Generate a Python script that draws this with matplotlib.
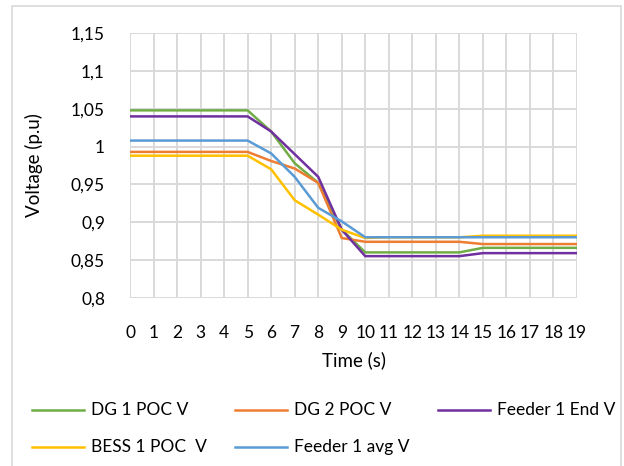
import matplotlib.pyplot as plt
from matplotlib.lines import Line2D
from matplotlib.patches import Rectangle
from matplotlib.ticker import FuncFormatter

time_s = list(range(20))

dg1_poc = [1.048, 1.048, 1.048, 1.048, 1.048, 1.048, 1.020, 0.978, 0.952, 0.890,
           0.860, 0.860, 0.860, 0.860, 0.860, 0.866, 0.866, 0.866, 0.866, 0.866]
dg2_poc = [0.993, 0.993, 0.993, 0.993, 0.993, 0.993, 0.981, 0.971, 0.952, 0.879,
           0.874, 0.874, 0.874, 0.874, 0.874, 0.871, 0.871, 0.871, 0.871, 0.871]
feeder1_end = [1.040, 1.040, 1.040, 1.040, 1.040, 1.040, 1.020, 0.990, 0.960, 0.890,
               0.855, 0.855, 0.855, 0.855, 0.855, 0.859, 0.859, 0.859, 0.859, 0.859]
bess1_poc = [0.988, 0.988, 0.988, 0.988, 0.988, 0.988, 0.970, 0.929, 0.910, 0.890,
             0.879, 0.880, 0.880, 0.880, 0.880, 0.882, 0.882, 0.882, 0.882, 0.882]
feeder1_avg = [1.008, 1.008, 1.008, 1.008, 1.008, 1.008, 0.991, 0.960, 0.919, 0.901,
               0.880, 0.880, 0.880, 0.880, 0.880, 0.880, 0.880, 0.880, 0.880, 0.880]

series = [
    ("DG 1 POC V", dg1_poc, "#70AD47"),
    ("DG 2 POC V", dg2_poc, "#ED7D31"),
    ("Feeder 1 End V", feeder1_end, "#7030A0"),
    ("BESS 1 POC  V", bess1_poc, "#FFC000"),
    ("Feeder 1 avg V", feeder1_avg, "#5B9BD5"),
]

plt.rcParams["font.family"] = ["Lato", "DejaVu Sans"]
W, H = 624, 466
fig = plt.figure(figsize=(W / 100, H / 100), dpi=100)

# chart frame (bottom edge falls outside the picture)
fig.patches.append(Rectangle((12 / W, -0.02), 609 / W, 1 - 6 / H + 0.02,
                             transform=fig.transFigure, fill=False,
                             edgecolor="#d9d9d9", linewidth=1.2))

ax = fig.add_axes([130 / W, 1 - 297.7 / H, 447 / W, 264.4 / H])
for name, vals, col in series:
    ax.plot(time_s, vals, color=col, linewidth=1.8, label=name)

ax.set_xlim(0, 19)
ax.set_ylim(0.8, 1.15)
ax.set_xticks(time_s)
ax.set_yticks([0.8 + 0.05 * i for i in range(8)])
ax.yaxis.set_major_formatter(FuncFormatter(
    lambda v, p: f"{v:.2f}".rstrip("0").rstrip(".").replace(".", ",")))
ax.grid(True, color="#d9d9d9", linewidth=1.4)
ax.set_axisbelow(True)
for s in ax.spines.values():
    s.set_visible(False)
ax.tick_params(length=0, labelsize=12.5, colors="black")
ax.tick_params(axis="x", pad=20)
ax.tick_params(axis="y", pad=18)
ax.set_xlabel("Time (s)", fontsize=13.5, labelpad=7)
ax.set_ylabel("Voltage (p.u)", fontsize=13.5, labelpad=20)

# legend, placed in figure pixels
leg_pos = [(32, 410), (235, 410), (438, 410), (32, 447), (235, 447)]
for (name, vals, col), (lx, ly) in zip(series, leg_pos):
    fig.add_artist(Line2D([lx / W, (lx + 52) / W], [1 - ly / H, 1 - ly / H],
                          color=col, linewidth=1.8, transform=fig.transFigure))
    fig.text((lx + 59) / W, 1 - ly / H, name, fontsize=12.5, va="center", ha="left")

fig.savefig("out.png", dpi=100)
